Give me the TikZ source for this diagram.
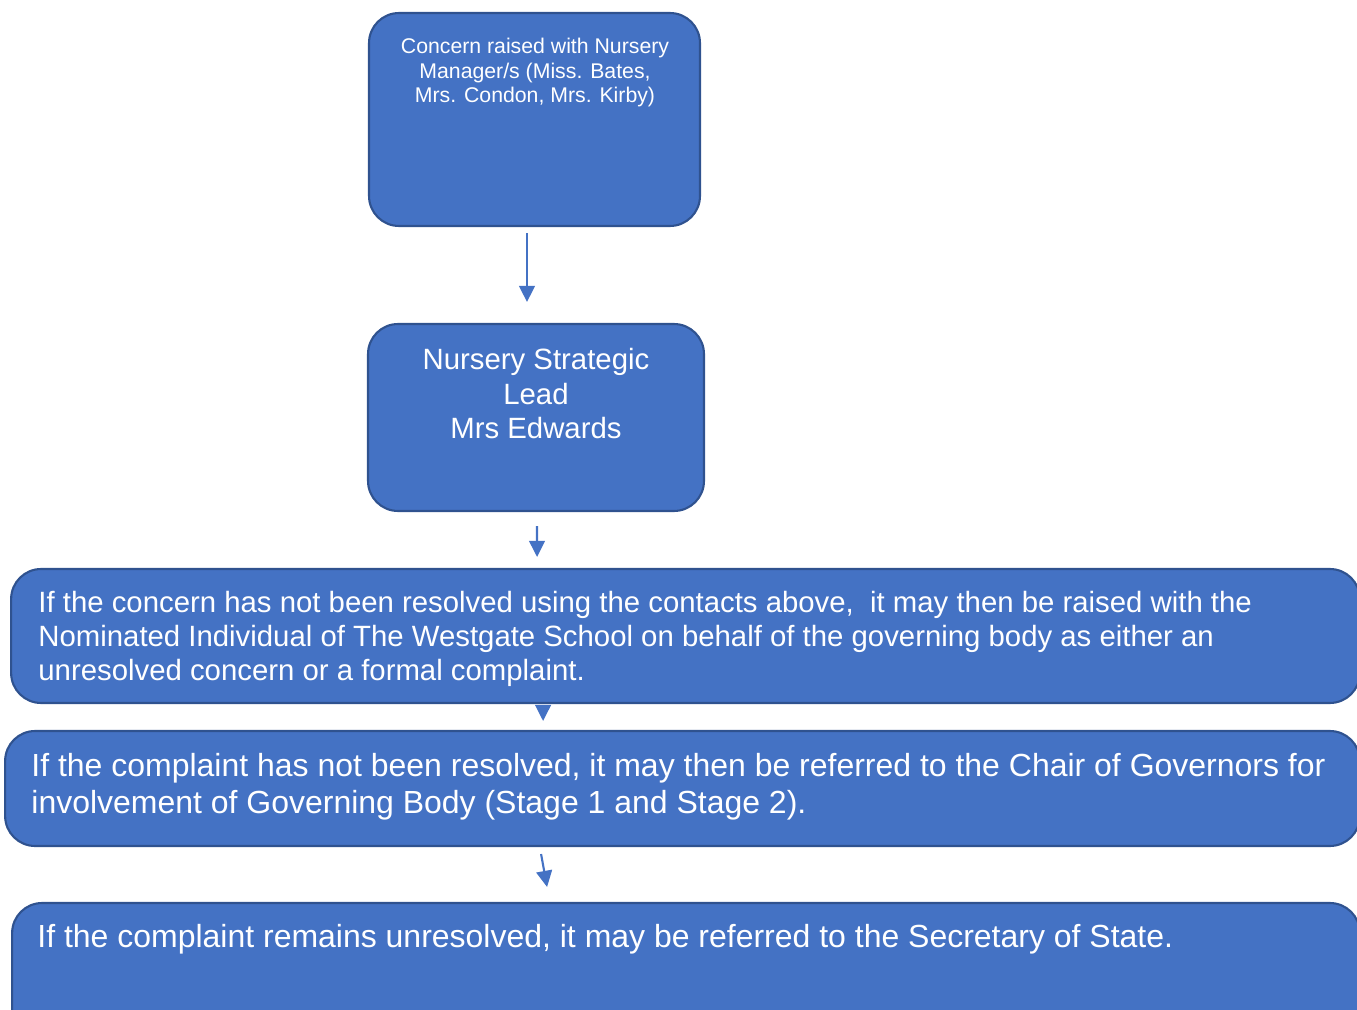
\documentclass[tikz,border=0pt]{standalone}
\usepackage{fontspec}
\setmainfont{Liberation Sans}
\definecolor{boxfill}{HTML}{4472C4}
\definecolor{boxline}{HTML}{2F528F}
\usetikzlibrary{arrows.meta, positioning, calc}

\begin{document}
\begin{tikzpicture}[x=0.02cm, y=-0.02cm,
            stage/.style={draw=boxline, line width=1.2pt, fill=boxfill, rounded corners=0.6cm, inner sep=0pt},
            txt/.style={text=white, inner sep=0pt},
            arr/.style={-{Triangle[width=9pt, length=9.2pt]}, line width=1.2pt, boxfill}
        ]
            \useasboundingbox (0,0) rectangle (1357,1010);
            \clip (0,0) rectangle (1357,1010);
            % the boxes
            \node[stage, minimum width=6.62cm, minimum height=4.26cm] (mgr) at (534.5,119.5) {};
            \node[stage, minimum width=6.72cm, minimum height=3.74cm] (lead) at (536,417.5) {};
            \node[stage, minimum width=26.98cm, minimum height=2.68cm] (nominee) at (685.5,636) {};
            \node[stage, minimum width=27.10cm, minimum height=2.30cm] (chair) at (682.5,788.5) {};
            \node[stage, minimum width=26.96cm, minimum height=3.14cm] (sos) at (686,981.5) {};
            % the texts
            \node[txt, anchor=north, align=center, font=\fontsize{12.1}{13.9}\selectfont] (mgrtext) at ([shift={(0.5,26)}]mgr.north)
                {Concern raised with Nursery\\Manager/s (Miss. Bates,\\Mrs. Condon, Mrs. Kirby)};
            \node[txt, anchor=north, align=center, font=\fontsize{16.7}{19.6}\selectfont] (leadtext) at ([shift={(0,25)}]lead.north)
                {Nursery Strategic\\Lead\\Mrs Edwards};
            \node[txt, anchor=north west, align=left, font=\fontsize{16.7}{19.3}\selectfont] (nomineetext) at ([shift={(28,23)}]nominee.north west)
                {If the concern has not been resolved using the contacts above,\ \ it may then be raised with the\\Nominated Individual of The Westgate School on behalf of the governing body as either an\\unresolved concern or a formal complaint.};
            \node[txt, anchor=north west, align=left, font=\fontsize{18.2}{21}\selectfont] (chairtext) at ([shift={(27,23)}]chair.north west)
                {If the complaint has not been resolved, it may then be referred to the Chair of Governors for\\involvement of Governing Body (Stage 1 and Stage 2).};
            \node[txt, anchor=north west, align=left, font=\fontsize{18.2}{21}\selectfont] (sostext) at ([shift={(26,22)}]sos.north west)
                {If the complaint remains unresolved, it may be referred to the Secretary of State.};
            % the arrows
            \draw[arr] ([shift={(-7.5,6)}]mgr.south) -- ([shift={(-9,-21)}]lead.north);
            \draw[arr] ([shift={(1,14)}]lead.south) -- ([shift={(527,-11)}]nominee.north west);
            \draw[arr] ([shift={(533,3)}]nominee.south west) -- ([shift={(539,-9)}]chair.north west);
            \draw[arr] ([shift={(537,7)}]chair.south west) -- ([shift={(536,-15)}]sos.north west);
        \end{tikzpicture}
\end{document}
